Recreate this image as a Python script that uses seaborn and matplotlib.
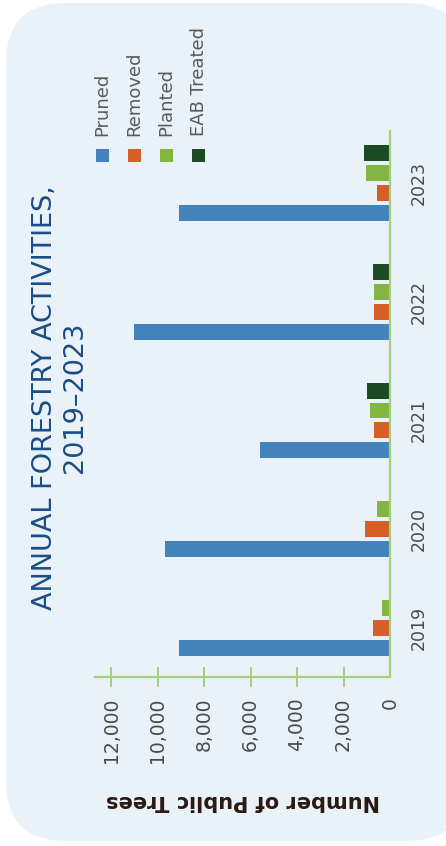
import matplotlib
matplotlib.use("Agg")
import numpy as np
import pandas as pd
import matplotlib.pyplot as plt
import seaborn as sns
from matplotlib.patches import FancyBboxPatch, Rectangle

# ---------------- data ----------------
years = ["2019", "2020", "2021", "2022", "2023"]
series = ["Pruned", "Removed", "Planted", "EAB Treated"]
pruned = [9075, 9680, 5590, 11010, 9075]
removed = [730, 1075, 690, 690, 560]
planted = [345, 560, 860, 690, 1030]
eab_treated = [0, 0, 990, 740, 1120]
value_ticks = [0, 2000, 4000, 6000, 8000, 10000, 12000]
colors = ["#4683bd", "#d65f27", "#82b541", "#1b4a23"]
title_line1 = "ANNUAL FORESTRY ACTIVITIES,"
title_line2 = "2019–2023"
value_label = "Number of Public Trees"

values = [pruned, removed, planted, eab_treated]
palette = dict(zip(series, colors))

# ---------------- layout of bars (groups packed by present bars) ----------------
GROUP_GAP = 1.95
rows, centers = [], []
pos = 0.0
for i, yr in enumerate(years):
    start, last = None, None
    for s, vals in zip(series, values):
        v = vals[i]
        if v <= 0:
            continue
        if start is None:
            start = pos
        rows.append(dict(year=yr, series=s, value=v, pos=pos))
        last = pos
        pos += 1
    centers.append((start + last) / 2)
    pos += GROUP_GAP
top_pos = last
df = pd.DataFrame(rows)

# ---------------- figure ----------------
sns.set_theme(style="white")
plt.rcParams["font.family"] = ["DejaVu Sans"]

W, H = 446, 846
fig = plt.figure(figsize=(W / 100, H / 100), dpi=100)
fig.patch.set_facecolor("white")
bg = FancyBboxPatch((0.06, 0.05), 4.6, 8.38,
                    boxstyle="round,pad=0,rounding_size=0.6",
                    transform=fig.dpi_scale_trans, facecolor="#e9f2f8",
                    edgecolor="none", zorder=0)
fig.add_artist(bg)

ax = fig.add_axes([95 / W, 1 - 677 / H, 295 / W, 546 / H])
ax.set_facecolor("none")

sns.barplot(data=df, x="value", y="pos", hue="series", hue_order=series,
            palette=palette, orient="h", native_scale=True, width=0.8,
            dodge=False, legend=False, saturation=1, linewidth=0,
            edgecolor="none", ax=ax)

green = "#a3cf7f"
ax.set_xlim(12690, 0)
ax.set_ylim(-1.45, top_pos + 1.1)
ax.set_xlabel("")
ax.set_ylabel("")
ax.grid(False)

ax.set_xticks(value_ticks)
ax.set_xticklabels([f"{v:,}" for v in value_ticks], rotation=90)
ax.tick_params(axis="x", bottom=True, direction="inout", length=15, width=1.4,
               color=green, pad=7, labelsize=13.5, labelcolor="#4a4a4a")
ax.xaxis.get_major_ticks()[0].tick1line.set_visible(False)

ax.yaxis.tick_right()
ax.set_yticks(centers)
ax.set_yticklabels(years, rotation=90, va="center")
ax.tick_params(axis="y", right=True, length=0, pad=14, labelsize=12.5,
               labelcolor="#4a4a4a")

for side in ["left", "top"]:
    ax.spines[side].set_visible(False)
for side in ["bottom", "right"]:
    ax.spines[side].set_color(green)
    ax.spines[side].set_linewidth(1.6)

# ---------------- title ----------------
fig.text(45 / W, 1 - 398 / H, title_line1, rotation=90, ha="center", va="center",
         fontsize=19.5, color="#1b4c86", fontweight="normal")
fig.text(75 / W, 1 - 397 / H, title_line2, rotation=90, ha="center", va="center",
         fontsize=19.5, color="#1b4c86", fontweight="normal")

# ---------------- legend ----------------
for i, (s, c) in enumerate(zip(series, colors)):
    x0 = 96 + 32 * i
    fig.add_artist(Rectangle((x0 / W, 1 - 162 / H), 13 / W, 13 / H,
                             transform=fig.transFigure, facecolor=c,
                             edgecolor="none"))
    fig.text((x0 + 6.5) / W, 1 - 136 / H, s, rotation=90, ha="center",
             va="bottom", fontsize=13, color="#5a5a5a")

# ---------------- value axis title ----------------
fig.text(242.5 / W, 1 - 801 / H, value_label, rotation=180, ha="center",
         va="center", fontsize=15, fontweight="heavy", color="#2b1810")

fig.savefig("out.png", dpi=100)
